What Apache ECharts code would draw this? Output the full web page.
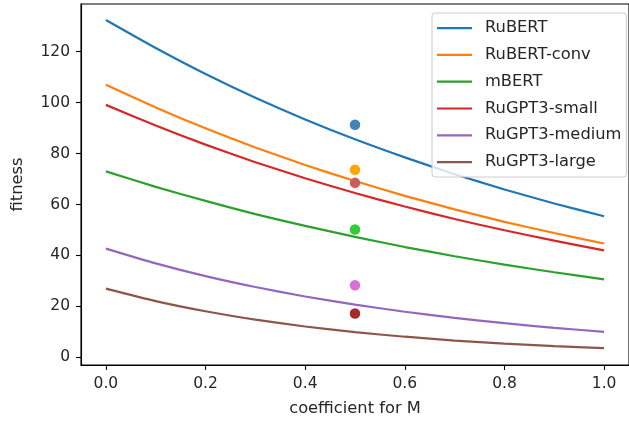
<!DOCTYPE html>
<html>
<head>
<meta charset="utf-8">
<script src="https://cdn.jsdelivr.net/npm/echarts@6/dist/echarts.min.js"></script>
<style>
html,body{margin:0;padding:0;background:#fff;}
#chart{width:629px;height:422px;}
</style>
</head>
<body>
<div id="chart"></div>
<script>
// x positions (coefficient for M)
const xs = [0.0, 0.1, 0.2, 0.3, 0.4, 0.5, 0.6, 0.7, 0.8, 0.9, 1.0];
const seriesNames = ['RuBERT', 'RuBERT-conv', 'mBERT', 'RuGPT3-small', 'RuGPT3-medium', 'RuGPT3-large'];
// curve values
const ruBERT = [132.4, 121.4, 111.2, 101.9, 93.4, 85.6, 78.5, 71.9, 65.9, 60.4, 55.4];
const ruBERTconv = [107.0, 98.1, 89.9, 82.4, 75.5, 69.2, 63.4, 58.1, 53.2, 48.8, 44.7];
const mBERT = [73.0, 66.9, 61.4, 56.2, 51.6, 47.3, 43.3, 39.7, 36.4, 33.4, 30.6];
const ruGPT3small = [99.1, 91.0, 83.5, 76.6, 70.3, 64.5, 59.2, 54.3, 49.9, 45.8, 42.0];
const ruGPT3medium = [42.7, 36.9, 31.9, 27.6, 23.9, 20.7, 17.9, 15.5, 13.4, 11.6, 10.0];
const ruGPT3large = [27.0, 22.1, 18.1, 14.8, 12.1, 9.9, 8.1, 6.6, 5.4, 4.4, 3.6];
// single points at x = 0.5
const pointX = 0.5;
const pointValues = [91.3, 73.6, 50.2, 68.5, 28.3, 17.2];
// tick labels
const xTicks = [0.0, 0.2, 0.4, 0.6, 0.8, 1.0];
const yTicks = [0, 20, 40, 60, 80, 100, 120];

const lineColors = ['#1f77b4', '#ff7f0e', '#2ca02c', '#d62728', '#9467bd', '#8c564b'];
const pointColors = ['#4682b4', '#ffa500', '#32cd32', '#cd5c5c', '#da70d6', '#a52a2a'];
const curves = [ruBERT, ruBERTconv, mBERT, ruGPT3small, ruGPT3medium, ruGPT3large];

const FONT = 'DejaVu Sans';
const FS_TICK = 15.5;
const FS_TEXT = 16.3;
const TXT = '#262626';
const LEG_ICON = 'path://M0,0 M35,14 M0,6 L35,6 L35,8.2 L0,8.2 Z';

const series = [];
curves.forEach((vals, i) => {
  series.push({
    name: seriesNames[i],
    type: 'line',
    data: xs.map((x, j) => [x, vals[j]]),
    symbol: 'none',
    smooth: 0.2,
    lineStyle: {color: lineColors[i], width: 2.2},
    itemStyle: {color: lineColors[i]},
    z: 2
  });
});
pointValues.forEach((v, i) => {
  series.push({
    name: 'pt' + i,
    type: 'scatter',
    data: [[pointX, v]],
    symbol: 'circle',
    symbolSize: 10.5,
    itemStyle: {color: pointColors[i], opacity: 1},
    z: 3
  });
});

const chart = echarts.init(document.getElementById('chart'), null, {renderer: 'canvas'});
chart.setOption({
  animation: false,
  backgroundColor: '#fff',
  textStyle: {fontFamily: FONT},
  grid: {left: 81, right: -8, top: 4, bottom: 56, show: true, borderColor: '#000', borderWidth: 1.1, containLabel: false},
  xAxis: {
    type: 'value', min: -0.05, max: 1.05,
    name: 'coefficient for M', nameLocation: 'middle', nameGap: 36,
    nameTextStyle: {fontFamily: FONT, fontSize: FS_TEXT, color: TXT},
    axisLine: {show: true, onZero: false, lineStyle: {color: '#000', width: 1.1}},
    axisTick: {show: true, length: 5, lineStyle: {color: '#000', width: 1.1}, customValues: xTicks},
    axisLabel: {fontFamily: FONT, fontSize: FS_TICK, color: TXT, margin: 11, customValues: xTicks, formatter: v => v.toFixed(1)},
    splitLine: {show: false}
  },
  yAxis: {
    type: 'value', min: -3.0, max: 138.7,
    name: 'fitness', nameLocation: 'middle', nameGap: 55,
    nameTextStyle: {fontFamily: FONT, fontSize: FS_TEXT, color: TXT},
    axisLine: {show: true, onZero: false, lineStyle: {color: '#000', width: 1.1}},
    axisTick: {show: true, length: 5, lineStyle: {color: '#000', width: 1.1}, customValues: yTicks},
    axisLabel: {fontFamily: FONT, fontSize: FS_TICK, color: TXT, margin: 11, customValues: yTicks},
    splitLine: {show: false}
  },
  legend: {
    data: seriesNames.map((n, i) => ({name: n, icon: LEG_ICON, itemStyle: {color: lineColors[i]}})),
    orient: 'vertical',
    left: 432, top: 13,
    padding: [7, 5, 7, 5],
    itemWidth: 35, itemHeight: 14, itemGap: 10.8,
    backgroundColor: 'rgba(255,255,255,0.8)',
    borderColor: '#cccccc', borderWidth: 1, borderRadius: 3,
    textStyle: {fontFamily: FONT, fontSize: FS_TEXT, color: TXT, lineHeight: 14, padding: [0, 0, 0, 8]}
  },
  series: series
});
</script>
</body>
</html>
